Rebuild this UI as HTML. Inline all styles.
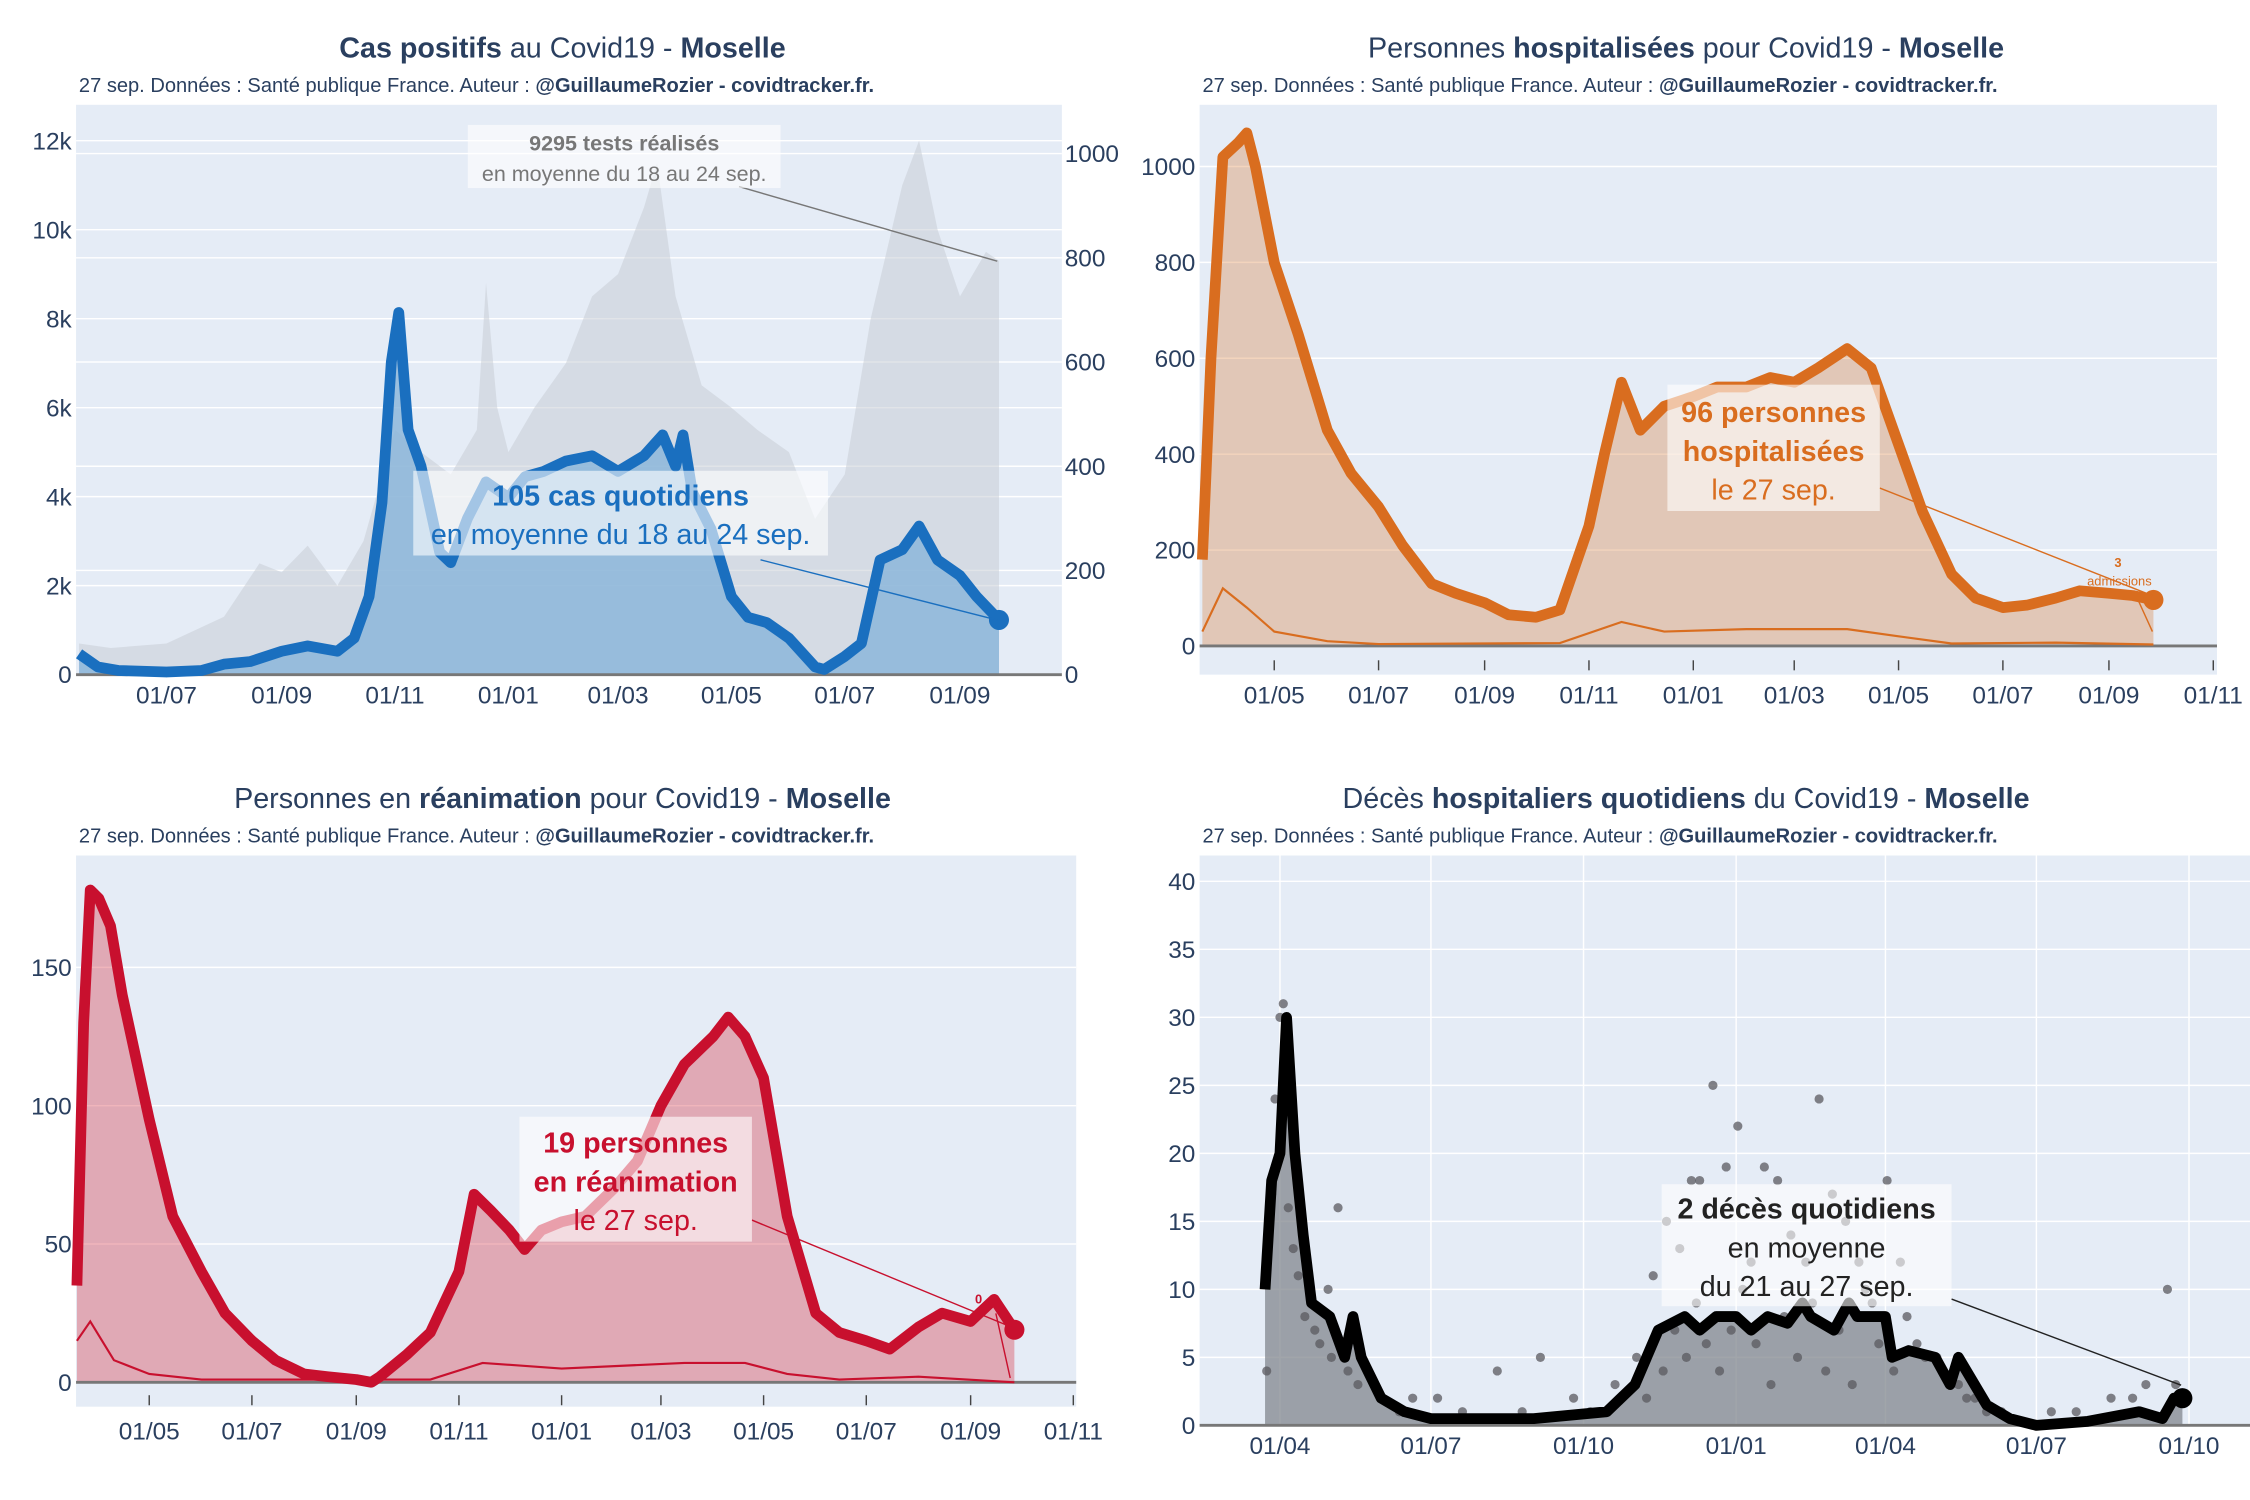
<!DOCTYPE html>
<html><head><meta charset="utf-8"><style>
html,body{margin:0;padding:0;background:#fff;}
svg{display:block;font-family:"Liberation Sans","DejaVu Sans",sans-serif;}
</style></head><body>
<svg id="root" width="2250" height="1500" viewBox="0 0 1568 1045" preserveAspectRatio="none" xmlns="http://www.w3.org/2000/svg">
<rect width="1568" height="1045" fill="#fff"/>
</svg>
<script>
// ---------- DATA ----------
const casesDates=["2020-05-15","2020-05-25","2020-06-05","2020-07-01","2020-07-20","2020-08-01","2020-08-15","2020-09-01","2020-09-15","2020-10-01","2020-10-10","2020-10-18","2020-10-25","2020-10-30","2020-11-03","2020-11-08","2020-11-15","2020-11-25","2020-12-01","2020-12-10","2020-12-20","2021-01-01","2021-01-10","2021-01-20","2021-02-01","2021-02-15","2021-03-01","2021-03-15","2021-03-25","2021-04-01","2021-04-05","2021-04-10","2021-04-20","2021-05-01","2021-05-10","2021-05-20","2021-06-01","2021-06-15","2021-06-20","2021-07-01","2021-07-10","2021-07-20","2021-08-01","2021-08-10","2021-08-20","2021-09-01","2021-09-10","2021-09-22"];
const casesValues=[40,15,8,5,8,20,25,45,55,45,70,150,330,600,695,470,400,235,215,300,370,340,380,390,410,420,390,420,460,400,460,350,280,150,110,100,70,15,10,35,60,220,240,285,220,190,150,105];
const testsDates=["2020-05-15","2020-06-01","2020-07-01","2020-08-01","2020-08-20","2020-09-01","2020-09-15","2020-10-01","2020-10-15","2020-11-01","2020-11-15","2020-12-01","2020-12-15","2020-12-20","2020-12-26","2021-01-01","2021-01-15","2021-02-01","2021-02-15","2021-03-01","2021-03-15","2021-03-22","2021-04-01","2021-04-15","2021-05-01","2021-05-15","2021-06-01","2021-06-15","2021-07-01","2021-07-15","2021-08-01","2021-08-10","2021-08-20","2021-09-01","2021-09-15","2021-09-22"];
const testsValues=[700,600,700,1300,2500,2300,2900,2000,3000,5500,5000,4500,5500,8800,6000,5000,6000,7000,8500,9000,10500,11500,8500,6500,6000,5500,5000,3500,4500,8000,11000,12000,10000,8500,9500,9300];
const p1LeftTicks=[0,2000,4000,6000,8000,10000,12000];
const p1LeftLabels=["0","2k","4k","6k","8k","10k","12k"];
const p1RightTicks=[0,200,400,600,800,1000];
const p1XTicks=["2020-07-01","2020-09-01","2020-11-01","2021-01-01","2021-03-01","2021-05-01","2021-07-01","2021-09-01"];
const hospDates=["2020-03-20","2020-03-25","2020-04-01","2020-04-10","2020-04-15","2020-04-20","2020-05-01","2020-05-15","2020-06-01","2020-06-15","2020-07-01","2020-07-15","2020-08-01","2020-08-15","2020-09-01","2020-09-15","2020-10-01","2020-10-15","2020-11-01","2020-11-10","2020-11-20","2020-12-01","2020-12-15","2021-01-01","2021-01-15","2021-02-01","2021-02-15","2021-03-01","2021-03-15","2021-04-01","2021-04-15","2021-05-01","2021-05-15","2021-06-01","2021-06-15","2021-07-01","2021-07-15","2021-08-01","2021-08-15","2021-09-01","2021-09-15","2021-09-27"];
const hospValues=[180,600,1020,1050,1070,1000,800,650,450,360,290,210,130,110,90,65,60,75,250,400,550,450,500,520,540,540,560,550,580,620,580,420,280,150,100,80,85,100,115,110,105,96];
const admDates=["2020-03-20","2020-04-01","2020-04-15","2020-05-01","2020-06-01","2020-07-01","2020-10-15","2020-11-20","2020-12-15","2021-02-01","2021-04-01","2021-05-01","2021-06-01","2021-08-01","2021-09-27"];
const admValues=[30,120,80,30,10,4,6,50,30,35,35,20,5,7,3];
const p2YTicks=[0,200,400,600,800,1000];
const p2XTicks=["2020-05-01","2020-07-01","2020-09-01","2020-11-01","2021-01-01","2021-03-01","2021-05-01","2021-07-01","2021-09-01","2021-11-01"];
const reaDates=["2020-03-19","2020-03-23","2020-03-27","2020-04-01","2020-04-08","2020-04-15","2020-05-01","2020-05-15","2020-06-01","2020-06-15","2020-07-01","2020-07-15","2020-08-01","2020-08-15","2020-09-01","2020-09-10","2020-09-15","2020-10-01","2020-10-15","2020-11-01","2020-11-10","2020-11-20","2020-12-01","2020-12-10","2020-12-20","2021-01-01","2021-01-15","2021-02-01","2021-02-15","2021-03-01","2021-03-15","2021-04-01","2021-04-10","2021-04-20","2021-05-01","2021-05-15","2021-06-01","2021-06-15","2021-07-01","2021-07-15","2021-08-01","2021-08-15","2021-09-01","2021-09-15","2021-09-27"];
const reaValues=[35,130,178,175,165,140,95,60,40,25,15,8,3,2,1,0,2,10,18,40,68,62,55,48,55,58,60,70,80,100,115,125,132,125,110,60,25,18,15,12,20,25,22,30,19];
const reaAdmDates=["2020-03-19","2020-03-27","2020-04-10","2020-05-01","2020-06-01","2020-10-15","2020-11-15","2021-01-01","2021-03-15","2021-04-20","2021-05-15","2021-06-15","2021-08-01","2021-09-27"];
const reaAdmValues=[15,22,8,3,1,1,7,5,7,7,3,1,2,0];
const p3YTicks=[0,50,100,150];
const p3XTicks=["2020-05-01","2020-07-01","2020-09-01","2020-11-01","2021-01-01","2021-03-01","2021-05-01","2021-07-01","2021-09-01","2021-11-01"];
const dcDates=["2020-03-23","2020-03-27","2020-04-01","2020-04-05","2020-04-10","2020-04-15","2020-04-20","2020-05-01","2020-05-10","2020-05-15","2020-05-20","2020-06-01","2020-06-15","2020-07-01","2020-08-01","2020-09-01","2020-10-15","2020-11-01","2020-11-15","2020-12-01","2020-12-10","2020-12-20","2021-01-01","2021-01-10","2021-01-20","2021-02-01","2021-02-10","2021-02-15","2021-03-01","2021-03-10","2021-03-15","2021-04-01","2021-04-05","2021-04-15","2021-05-01","2021-05-10","2021-05-15","2021-06-01","2021-06-15","2021-07-01","2021-08-01","2021-09-01","2021-09-15","2021-09-22","2021-09-27"];
const dcValues=[10,18,20,30,20,14,9,8,5,8,5,2,1,0.5,0.5,0.5,1,3,7,8,7,8,8,7,8,7.5,9,8,7,9,8,8,5,5.5,5,3,5,1.5,0.5,0,0.3,1,0.5,2,2];
const dotDates=["2020-03-24","2020-03-27","2020-03-29","2020-04-01","2020-04-03","2020-04-06","2020-04-09","2020-04-12","2020-04-16","2020-04-20","2020-04-25","2020-04-30","2020-05-06","2020-05-12","2020-05-18","2020-05-24","2020-06-02","2020-06-12","2020-07-05","2020-08-10","2020-09-05","2020-09-25","2020-10-20","2020-11-02","2020-11-12","2020-11-20","2020-11-28","2020-12-05","2020-12-10","2020-12-18","2020-12-26","2021-01-02","2021-01-10","2021-01-18","2021-01-26","2021-02-03","2021-02-12","2021-02-20","2021-02-28","2021-03-08","2021-03-16","2021-03-24","2021-04-02","2021-04-10","2021-04-20","2021-05-02","2021-05-15","2021-05-25","2021-06-10","2021-07-10","2021-08-15","2021-09-05","2021-09-18","2021-09-23","2020-11-18","2020-11-25","2020-12-02","2020-12-08","2020-12-14","2020-12-22","2020-12-29","2021-01-05","2021-01-13","2021-01-22","2021-01-30","2021-02-07","2021-02-16","2021-02-24","2021-03-04","2021-03-12","2021-03-20","2021-03-28","2021-04-06","2021-04-14","2021-04-25","2021-05-06","2021-05-20","2020-04-22","2020-05-02","2020-05-28","2020-06-20","2020-07-20","2020-08-25","2020-10-05","2020-11-08","2021-06-01","2021-07-25","2021-08-28"];
const dotValues=[4,17,24,30,31,16,13,11,8,9,6,10,16,4,3,4,2,1,2,4,5,2,3,5,11,15,13,18,18,25,19,22,12,19,18,14,12,24,17,15,12,9,18,12,6,5,3,2,1,1,2,3,10,3,4,7,5,9,6,4,7,10,6,3,8,5,9,4,7,3,10,6,4,8,5,4,2,7,5,3,2,1,1,1,2,1,1,2];
const p4YTicks=[0,5,10,15,20,25,30,35,40];
const p4XTicks=["2020-04-01","2020-07-01","2020-10-01","2021-01-01","2021-04-01","2021-07-01","2021-10-01"];

// ---------- HELPERS ----------
const NS="http://www.w3.org/2000/svg";
const root=document.getElementById('root');
const DAY=86400000;
function d(s){const p=s.split('-');return Date.UTC(+p[0],+p[1]-1,+p[2])/DAY;}
function mk(tag,attrs,parent){const e=document.createElementNS(NS,tag);for(const k in attrs)e.setAttribute(k,attrs[k]);(parent||root).appendChild(e);return e;}
function txt(x,y,s,size,fill,anchor,weight,parent){const t=mk('text',{x:x,y:y,'font-size':size,fill:fill,'text-anchor':anchor||'start','font-weight':weight||'normal'},parent);t.textContent=s;return t;}
function fmtTick(s){const p=s.split('-');return p[2]+'/'+p[1];}
function linePath(dates,vals,X,Y){return dates.map((s,i)=>(i?'L':'M')+X(s).toFixed(1)+','+Y(vals[i]).toFixed(1)).join(' ');}
function areaPath(dates,vals,X,Y,y0){return linePath(dates,vals,X,Y)+' L'+X(dates[dates.length-1]).toFixed(1)+','+y0+' L'+X(dates[0]).toFixed(1)+','+y0+' Z';}
function title(cx,y,parts,sub,sx,g){
  const t=mk('text',{x:cx,y:y,'font-size':20,fill:'#2a3f5f','text-anchor':'middle'},g);
  
  
  parts.forEach(p=>{const ts=mk('tspan',{'font-weight':p[1]?'bold':'normal'},t);ts.textContent=p[0];});
  const s=mk('text',{x:sx,y:y+24,'font-size':14,fill:'#2a3f5f'},g);
  
  
  const a=mk('tspan',{},s);a.textContent='27 sep. Données : Santé publique France. Auteur : ';
  const b=mk('tspan',{'font-weight':'bold'},s);b.textContent='@GuillaumeRozier - covidtracker.fr.';
}
function annot(g,x,y,w,h,lines,color,lx1,ly1,lx2,ly2){
  mk('line',{x1:lx1,y1:ly1,x2:lx2,y2:ly2,stroke:color,'stroke-width':1},g);
  const r=mk('rect',{x:x,y:y,width:w,height:h,fill:'rgba(255,255,255,0.6)'},g);
  
  
  lines.forEach(l=>{const t=txt(x+w/2,l[1],l[0],l[2],color,'middle',l[3]?'bold':'normal',g);
    
    });
}

// ---------- PANEL 1 ----------
(function(){
  const g=mk('g',{});
  
  
  const X=s=>116+(d(s)-d('2020-07-01'))*1.295;
  const YL=v=>470-v*0.031, YR=v=>470-v*0.363;
  mk('rect',{x:53,y:73,width:687,height:397,fill:'#e5ecf6'},g);
  p1LeftTicks.forEach((v,i)=>{mk('line',{x1:53,x2:740,y1:YL(v),y2:YL(v),stroke:'#fff','stroke-width':1},g);
    const t=txt(50,YL(v)+6,p1LeftLabels[i],17,'#2a3f5f','end',null,g);
    
    });
  p1RightTicks.forEach(v=>{mk('line',{x1:53,x2:740,y1:YR(v),y2:YR(v),stroke:'#fff','stroke-width':1},g);
    const t=txt(742,YR(v)+6,String(v),17,'#2a3f5f','start',null,g);
    
    });
  const ta=mk('path',{d:areaPath(testsDates,testsValues,X,YL,470),fill:'rgba(200,205,214,0.55)'},g);
  
  
  const ca=mk('path',{d:areaPath(casesDates,casesValues,X,YR,470),fill:'rgba(135,180,218,0.8)'},g);
  
  
  mk('line',{x1:53,x2:740,y1:470,y2:470,stroke:'#777','stroke-width':2},g);
  const cl=mk('path',{d:linePath(casesDates,casesValues,X,YR),fill:'none',stroke:'#1a6fbf','stroke-width':7.5,'stroke-linejoin':'round'},g);
  
  
  const n=casesDates.length-1;
  const dot=mk('circle',{cx:X(casesDates[n]),cy:YR(casesValues[n]),r:7,fill:'#1a6fbf'},g);
  
  
  p1XTicks.forEach(s=>{const t=txt(X(s),490,fmtTick(s),17,'#2a3f5f','middle',null,g);
    
    });
  annot(g,326,87,218,44,[['9295 tests réalisés',105,15,true],['en moyenne du 18 au 24 sep.',126,15,false]],'#777',515,130,695,182);
  annot(g,288,328,289,59,[['105 cas quotidiens',352,20,true],['en moyenne du 18 au 24 sep.',379,20,false]],'#1a6fbf',530,390,695,432);
  title(392,40,[['Cas positifs',1],[' au Covid19 - ',0],['Moselle',1]],true,55,g);
})();

// ---------- PANEL 2 ----------
(function(){
  const g=mk('g',{});
  
  
  const X=s=>888+(d(s)-d('2020-05-01'))*1.192;
  const Y=v=>450-v*0.334;
  mk('rect',{x:836,y:73,width:709,height:397,fill:'#e5ecf6'},g);
  p2YTicks.forEach(v=>{mk('line',{x1:836,x2:1545,y1:Y(v),y2:Y(v),stroke:'#fff','stroke-width':1},g);
    const t=txt(833,Y(v)+6,String(v),17,'#2a3f5f','end',null,g);
    
    });
  const a=mk('path',{d:areaPath(hospDates,hospValues,X,Y,450),fill:'rgba(217,120,50,0.32)'},g);
  
  
  mk('line',{x1:836,x2:1545,y1:450,y2:450,stroke:'#777','stroke-width':2},g);
  const al=mk('path',{d:linePath(admDates,admValues,X,Y),fill:'none',stroke:'#d96d1f','stroke-width':1.5},g);
  
  
  const l=mk('path',{d:linePath(hospDates,hospValues,X,Y),fill:'none',stroke:'#d96d1f','stroke-width':7.5,'stroke-linejoin':'round'},g);
  
  
  const n=hospDates.length-1;
  const dot=mk('circle',{cx:X(hospDates[n]),cy:Y(hospValues[n]),r:7,fill:'#d96d1f'},g);
  
  
  p2XTicks.forEach(s=>{mk('line',{x1:X(s),x2:X(s),y1:460,y2:467,stroke:'#444','stroke-width':1},g);
    const t=txt(X(s),490,fmtTick(s),17,'#2a3f5f','middle',null,g);
    
    });
  annot(g,1162,268,148,88,[['96 personnes',294,20,true],['hospitalisées',321,20,true],['le 27 sep.',348,20,false]],'#d96d1f',1310,340,1500,415);
  mk('line',{x1:1490,y1:418,x2:1500,y2:440,stroke:'#d96d1f','stroke-width':1},g);
  txt(1476,395,'3',9,'#d96d1f','middle','bold',g);
  txt(1477,408,'admissions',9,'#d96d1f','middle',null,g);
  title(1175,40,[['Personnes ',0],['hospitalisées',1],[' pour Covid19 - ',0],['Moselle',1]],true,838,g);
})();

// ---------- PANEL 3 ----------
(function(){
  const g=mk('g',{});
  
  
  const X=s=>104+(d(s)-d('2020-05-01'))*1.173;
  const Y=v=>963-v*1.927;
  mk('rect',{x:53,y:596,width:697,height:384,fill:'#e5ecf6'},g);
  p3YTicks.forEach(v=>{mk('line',{x1:53,x2:750,y1:Y(v),y2:Y(v),stroke:'#fff','stroke-width':1},g);
    const t=txt(50,Y(v)+6,String(v),17,'#2a3f5f','end',null,g);
    
    });
  const a=mk('path',{d:areaPath(reaDates,reaValues,X,Y,963),fill:'rgba(215,60,75,0.38)'},g);
  
  
  mk('line',{x1:53,x2:750,y1:963,y2:963,stroke:'#777','stroke-width':2},g);
  const al=mk('path',{d:linePath(reaAdmDates,reaAdmValues,X,Y),fill:'none',stroke:'#c8102e','stroke-width':1.5},g);
  
  
  const l=mk('path',{d:linePath(reaDates,reaValues,X,Y),fill:'none',stroke:'#c8102e','stroke-width':7.5,'stroke-linejoin':'round'},g);
  
  
  const n=reaDates.length-1;
  const dot=mk('circle',{cx:X(reaDates[n]),cy:Y(reaValues[n]),r:7,fill:'#c8102e'},g);
  
  
  p3XTicks.forEach(s=>{mk('line',{x1:X(s),x2:X(s),y1:972,y2:979,stroke:'#444','stroke-width':1},g);
    const t=txt(X(s),1003,fmtTick(s),17,'#2a3f5f','middle',null,g);
    
    });
  annot(g,362,778,162,87,[['19 personnes',803,20,true],['en réanimation',830,20,true],['le 27 sep.',857,20,false]],'#c8102e',524,850,706,925);
  mk('line',{x1:694,y1:915,x2:704,y2:960,stroke:'#c8102e','stroke-width':1},g);
  txt(682,908,'0',9,'#c8102e','middle','bold',g);
  title(392,563,[['Personnes en ',0],['réanimation',1],[' pour Covid19 - ',0],['Moselle',1]],true,55,g);
})();

// ---------- PANEL 4 ----------
(function(){
  const g=mk('g',{});
  
  
  const X=s=>892+(d(s)-d('2020-04-01'))*1.156;
  const Y=v=>993-v*9.475;
  mk('rect',{x:836,y:596,width:732,height:397,fill:'#e5ecf6'},g);
  p4YTicks.forEach(v=>{mk('line',{x1:836,x2:1568,y1:Y(v),y2:Y(v),stroke:'#fff','stroke-width':1},g);
    const t=txt(833,Y(v)+6,String(v),17,'#2a3f5f','end',null,g);
    
    });
  p4XTicks.forEach(s=>{mk('line',{x1:X(s),x2:X(s),y1:596,y2:993,stroke:'#fff','stroke-width':1},g);});
  const a=mk('path',{d:areaPath(dcDates,dcValues,X,Y,993),fill:'rgba(130,135,142,0.75)'},g);
  
  
  dotDates.forEach((s,i)=>{const c=mk('circle',{cx:X(s),cy:Y(dotValues[i]),r:3.2,fill:'rgba(90,90,95,0.75)'},g);
    
    });
  mk('line',{x1:836,x2:1568,y1:993,y2:993,stroke:'#777','stroke-width':2},g);
  const l=mk('path',{d:linePath(dcDates,dcValues,X,Y),fill:'none',stroke:'#000','stroke-width':7.5,'stroke-linejoin':'round'},g);
  
  
  const n=dcDates.length-1;
  const dot=mk('circle',{cx:X(dcDates[n]),cy:Y(dcValues[n]),r:7,fill:'#000'},g);
  
  
  p4XTicks.forEach(s=>{const t=txt(X(s),1013,fmtTick(s),17,'#2a3f5f','middle',null,g);
    
    });
  annot(g,1158,825,202,85,[['2 décès quotidiens',849,20,true],['en moyenne',876,20,false],['du 21 au 27 sep.',903,20,false]],'#222',1360,905,1520,965);
  title(1175,563,[['Décès ',0],['hospitaliers quotidiens',1],[' du Covid19 - ',0],['Moselle',1]],true,838,g);
})();
</script>
</body></html>
